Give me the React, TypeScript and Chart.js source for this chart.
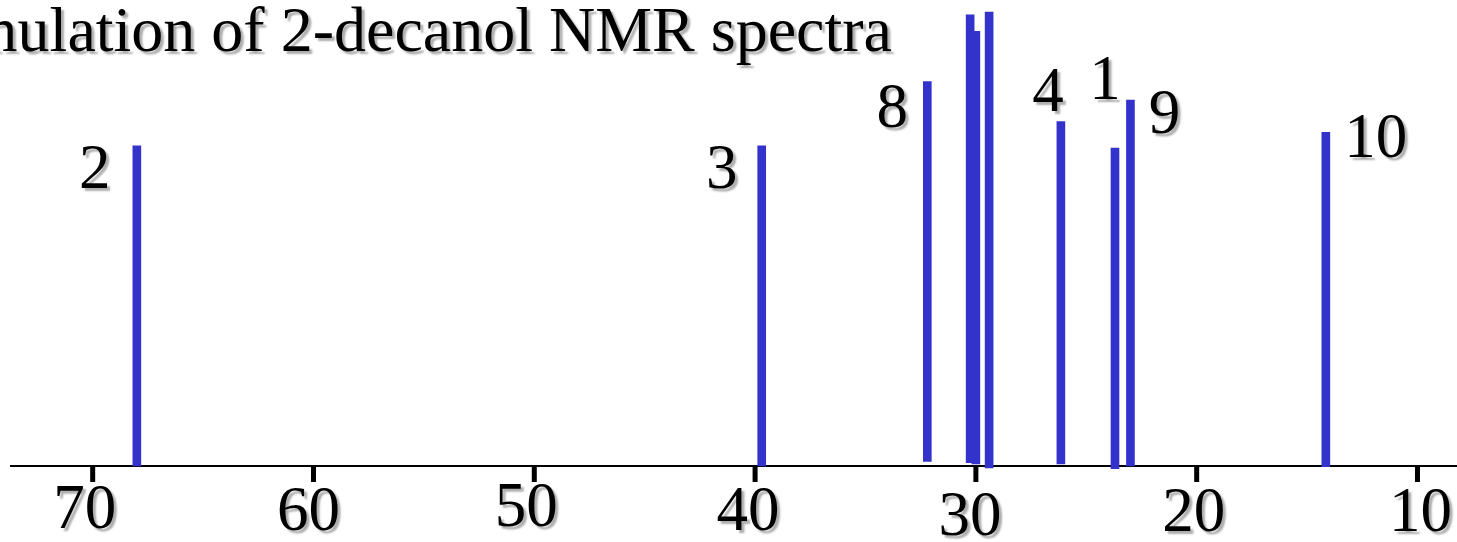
import React, { useEffect, useRef } from 'react';
import { Chart, registerables } from 'chart.js';

Chart.register(...registerables);

// Peak chemical shifts (ppm), drawn in this order
const PEAK_SHIFTS = [68.0, 39.7, 32.2, 30.0, 30.26, 29.4, 26.15, 23.7, 23.0, 14.15];
// Peak top heights (relative intensity)
const PEAK_TOPS = [68.7, 68.7, 82.5, 93.3, 96.8, 97.4, 73.9, 68.2, 78.5, 71.6];
// Peak bottoms (sticks are hand drawn, some start slightly above/below the axis)
const PEAK_BASES = [0, 0, 1.0, 0.43, 0.7, -0.43, 0.43, -0.58, 0, -0.15];
// Carbon number labels
const PEAK_LABELS = ['2', '3', '8', '', '', '', '4', '1', '9', '10'];

const TICK_VALUES = [70, 60, 50, 40, 30, 20, 10];
const TICK_LABELS = ['70', '60', '50', '40', '30', '20', '10'];

const TITLE = 'Simulation of 2-decanol NMR spectra';

// style: label offsets relative to stick top [dx, dy]
const LABEL_OFFSETS = [
  [-42, 42], [-40, 42], [-35, 45], [0, 0], [0, 0], [0, 0],
  [-13, -11], [-10, -49], [34, 33], [50, 25],
];
// style: tick label offsets [dx, baseline y]
const TICK_OFFSETS = [
  [-8, 528], [-5, 530], [-8, 526], [-7, 530], [-6, 535], [-3, 531], [3, 531],
];

const BAR_COLOR = '#3333cc';
const FONT = '"Liberation Serif", "Times New Roman", serif';

function setShadow(ctx: CanvasRenderingContext2D) {
  ctx.shadowColor = 'rgba(0,0,0,0.32)';
  ctx.shadowOffsetX = 3;
  ctx.shadowOffsetY = 3;
  ctx.shadowBlur = 2;
}

const decorPlugin = {
  id: 'decor',
  beforeDatasetsDraw(chart: any) {
    const { ctx, chartArea } = chart;
    ctx.save();
    ctx.fillStyle = '#000';
    ctx.fillRect(chartArea.left, chartArea.bottom - 1, chartArea.right - chartArea.left, 2);
    ctx.restore();
  },
  afterDatasetsDraw(chart: any) {
    const { ctx, chartArea } = chart;
    const xs = chart.scales.x;
    const ys = chart.scales.y;
    ctx.save();
    // tick marks
    ctx.fillStyle = '#000';
    TICK_VALUES.forEach((v) => {
      const px = xs.getPixelForValue(v);
      ctx.fillRect(px - 2.5, chartArea.bottom, 5, 16);
    });
    // text
    setShadow(ctx);
    ctx.fillStyle = '#000';
    ctx.textAlign = 'center';
    ctx.textBaseline = 'alphabetic';
    ctx.font = `63px ${FONT}`;
    TICK_VALUES.forEach((v, i) => {
      const px = xs.getPixelForValue(v);
      ctx.fillText(TICK_LABELS[i], px + TICK_OFFSETS[i][0], TICK_OFFSETS[i][1]);
    });
    PEAK_SHIFTS.forEach((s, i) => {
      if (!PEAK_LABELS[i]) return;
      const px = xs.getPixelForValue(s);
      const py = ys.getPixelForValue(PEAK_TOPS[i]);
      ctx.fillText(PEAK_LABELS[i], px + LABEL_OFFSETS[i][0], py + LABEL_OFFSETS[i][1]);
    });
    ctx.font = `64px ${FONT}`;
    ctx.textAlign = 'right';
    ctx.fillText(TITLE, 892, 51);
    ctx.restore();
  },
};

export default function App() {
  const ref = useRef<HTMLCanvasElement>(null);
  useEffect(() => {
    if (!ref.current) return;
    const chart = new Chart(ref.current, {
      type: 'bar',
      data: {
        datasets: [
          {
            data: PEAK_SHIFTS.map((x, i) => ({ x, y: [PEAK_BASES[i], PEAK_TOPS[i]] })) as any,
            backgroundColor: BAR_COLOR,
            borderWidth: 0,
            borderSkipped: false,
            barThickness: 8,
            clip: false as any,
          },
        ],
      },
      options: {
        animation: false,
        responsive: false,
        layout: { padding: { left: 10, right: 0, top: 0, bottom: 76 } },
        scales: {
          x: { type: 'linear', reverse: true, offset: false, min: 8.21, max: 73.745, display: false },
          y: { type: 'linear', min: 0, max: 100, display: false },
        },
        plugins: {
          legend: { display: false },
          tooltip: { enabled: false },
        },
      },
      plugins: [decorPlugin],
    });
    return () => chart.destroy();
  }, []);
  return (
    <div style={{ position: 'fixed', left: 0, top: 0, width: 1457, height: 542, background: '#fff' }}>
      <canvas ref={ref} width={1457} height={542} />
    </div>
  );
}
